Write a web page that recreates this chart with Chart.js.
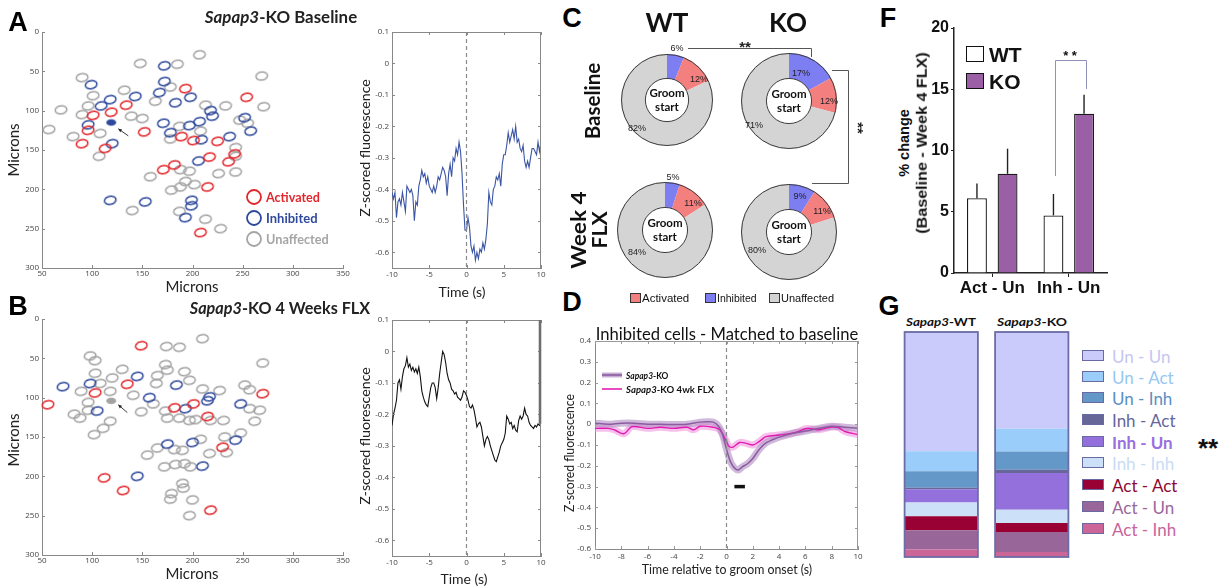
<!DOCTYPE html>
<html><head><meta charset="utf-8">
<script src="https://cdn.jsdelivr.net/npm/chart.js@4.4.1/dist/chart.umd.min.js"></script>
<style>
html,body{margin:0;padding:0;background:#fff;}
#root{position:relative;width:1229px;height:586px;overflow:hidden;font-family:Lato,"Open Sans",sans-serif;}
canvas{position:absolute;}
.t{position:absolute;white-space:nowrap;line-height:1;}
svg{position:absolute;left:0;top:0;}
</style></head><body><div id="root"></div>
<script>
// ================= DATA =================
const scatterXTicks = [50,100,150,200,250,300,350];
const scatterYTicks = [0,50,100,150,200,250,300];

const baselineActivated = [[193,72],[254,83],[134,93],[119,102],[101,106],[96,125],[152,127],[189,133],[201,138],[225,139],[90,142],[113,148],[236,165],[242,155],[217,159],[182,169],[171,175],[215,197],[208,255]];
const baselineInhibited = [[172,43],[99,67],[172,63],[167,77],[143,82],[198,83],[118,86],[109,94],[183,90],[218,100],[220,107],[252,109],[96,118],[171,116],[207,114],[197,119],[258,126],[178,128],[209,137],[237,133],[120,142],[206,164],[118,214],[153,216],[199,214],[199,221],[193,236]];
const baselineTracked = [[119,115]];
const baselineUnaffected = [[207,29],[148,40],[185,41],[269,56],[90,58],[132,74],[178,70],[101,81],[163,88],[69,99],[96,94],[213,93],[233,94],[271,95],[90,105],[139,107],[150,110],[57,124],[108,129],[81,133],[187,120],[208,126],[255,116],[247,112],[178,136],[107,158],[243,147],[243,158],[188,175],[197,177],[158,184],[226,180],[243,178],[193,190],[188,197],[202,194],[179,201],[140,227],[187,228],[213,238],[228,250]];

const flxActivated = [[149,34],[135,83],[103,94],[56,109],[182,113],[201,108],[215,124],[270,95],[230,163],[112,202],[131,218],[218,243]];
const flxInhibited = [[71,86],[98,82],[145,73],[105,117],[157,100],[184,84],[193,114],[217,99],[215,104],[248,108],[175,159],[200,157],[243,154],[210,187],[145,200]];
const flxTracked = [[119,104]];
const flxUnaffected = [[210,25],[98,47],[103,53],[174,35],[187,36],[270,56],[130,64],[103,69],[173,58],[175,65],[192,67],[165,72],[197,78],[164,82],[120,75],[108,82],[89,92],[118,92],[141,97],[210,89],[227,91],[252,84],[257,90],[96,106],[96,116],[82,121],[88,126],[149,118],[161,108],[173,117],[175,126],[187,126],[197,129],[203,128],[218,129],[231,129],[257,114],[267,116],[262,130],[118,130],[111,139],[102,147],[208,153],[232,150],[248,145],[234,170],[217,171],[165,164],[155,173],[182,166],[190,167],[172,188],[183,185],[192,184],[198,188],[190,209],[191,215],[179,222],[178,229],[200,230],[197,250]];

const traceTime = [-10,-9.8,-9.6,-9.4,-9.2,-9,-8.8,-8.6,-8.4,-8.2,-8,-7.8,-7.6,-7.4,-7.2,-7,-6.8,-6.6,-6.4,-6.2,-6,-5.8,-5.6,-5.4,-5.2,-5,-4.8,-4.6,-4.4,-4.2,-4,-3.8,-3.6,-3.4,-3.2,-3,-2.8,-2.6,-2.4,-2.2,-2,-1.8,-1.6,-1.4,-1.2,-1,-0.8,-0.6,-0.4,-0.2,0,0.2,0.4,0.6,0.8,1,1.2,1.4,1.6,1.8,2,2.2,2.4,2.6,2.8,3,3.2,3.4,3.6,3.8,4,4.2,4.4,4.6,4.8,5,5.2,5.4,5.6,5.8,6,6.2,6.4,6.6,6.8,7,7.2,7.4,7.6,7.8,8,8.2,8.4,8.6,8.8,9,9.2,9.4,9.6,9.8,10];
const traceBaseline = [
 -0.41,-0.43,-0.41,-0.49,-0.44,-0.43,-0.45,-0.41,-0.44,-0.47,
 -0.39,-0.40,-0.41,-0.40,-0.42,-0.50,-0.44,-0.45,-0.39,-0.37,
 -0.34,-0.36,-0.35,-0.38,-0.36,-0.39,-0.40,-0.41,-0.39,-0.41,
 -0.39,-0.36,-0.37,-0.35,-0.33,-0.34,-0.36,-0.42,-0.35,-0.32,
 -0.36,-0.30,-0.31,-0.27,-0.29,-0.25,-0.28,-0.35,-0.45,-0.53,
 -0.53,-0.49,-0.52,-0.58,-0.60,-0.58,-0.625,-0.60,-0.62,-0.59,
 -0.60,-0.57,-0.59,-0.56,-0.51,-0.41,-0.44,-0.45,-0.40,-0.39,
 -0.36,-0.37,-0.35,-0.39,-0.32,-0.29,-0.29,-0.26,-0.22,-0.25,
 -0.23,-0.21,-0.24,-0.20,-0.25,-0.24,-0.27,-0.28,-0.26,-0.31,
 -0.33,-0.31,-0.33,-0.30,-0.27,-0.27,-0.28,-0.29,-0.25,-0.28,
 -0.25];
const traceFLX = [
 -0.235,-0.20,-0.18,-0.155,-0.10,-0.09,-0.12,-0.08,-0.055,-0.045,
 -0.02,-0.05,-0.04,-0.06,-0.05,-0.065,-0.055,-0.07,-0.05,-0.08,
 -0.125,-0.145,-0.16,-0.17,-0.175,-0.145,-0.115,-0.10,-0.10,-0.115,
 -0.15,-0.115,-0.07,-0.035,0.0,-0.01,-0.035,-0.07,-0.09,-0.10,
 -0.12,-0.125,-0.135,-0.13,-0.145,-0.15,-0.155,-0.145,-0.125,-0.13,
 -0.14,-0.155,-0.175,-0.18,-0.17,-0.185,-0.21,-0.24,-0.23,-0.225,
 -0.24,-0.27,-0.30,-0.28,-0.27,-0.28,-0.30,-0.315,-0.33,-0.345,
 -0.35,-0.335,-0.32,-0.30,-0.29,-0.28,-0.26,-0.205,-0.215,-0.23,
 -0.225,-0.245,-0.235,-0.25,-0.255,-0.22,-0.205,-0.215,-0.205,-0.18,
 -0.20,-0.205,-0.225,-0.235,-0.24,-0.245,-0.235,-0.24,-0.23,-0.235,
 -0.23];
const traceFLXEndBar = [0.1,-0.23];
const traceXTicks = [-10,-5,0,5,10];
const traceYTicks = [0.1,0,-0.1,-0.2,-0.3,-0.4,-0.5,-0.6];

const donutCategories = ['Inhibited','Activated','Unaffected'];
const donutWTBaseline = [6,12,82];
const donutKOBaseline = [17,12,71];
const donutWTWeek4 = [5,11,84];
const donutKOWeek4 = [9,11,80];

const dTimeKO = [-10,-9,-8,-7,-6,-5,-4,-3,-2,-1.5,-1,-0.6,-0.3,0,0.3,0.6,0.9,1.2,1.6,2,2.5,3,3.5,4,5,6,7,8,9,10];
const dMeanKO = [0.005,0.0,0.005,0.005,0.0,0.0,-0.002,0.0,0.01,0.012,0.01,-0.01,-0.05,-0.12,-0.18,-0.21,-0.22,-0.205,-0.19,-0.165,-0.12,-0.09,-0.075,-0.062,-0.045,-0.033,-0.02,-0.01,-0.015,-0.02];
const dTimeFLX = [-10,-9,-8.5,-7.8,-7.2,-6,-5,-4,-3,-2.5,-2,-1,-0.5,0,0.2,0.5,1,1.5,2,2.5,3,4,5,5.5,6,6.5,7,8,8.5,9,10];
const dMeanFLX = [-0.02,-0.02,-0.028,-0.046,-0.012,-0.02,-0.015,-0.02,-0.015,-0.027,-0.01,-0.015,-0.027,-0.083,-0.107,-0.11,-0.088,-0.092,-0.1,-0.083,-0.06,-0.052,-0.043,-0.035,-0.022,-0.022,-0.027,-0.014,-0.016,-0.035,-0.05];
const dSigTimes = [0.6,1.4];
const dSigLevel = -0.3;
const dXTicks = [-10,-8,-6,-4,-2,0,2,4,6,8,10];
const dYTicks = [0.4,0.3,0.2,0.1,0,-0.1,-0.2,-0.3,-0.4,-0.5,-0.6];

const fCategories = ['Act - Un','Inh - Un'];
const fWT = [6.1,4.7];
const fKO = [8.1,13.0];
const fWTsem = [1.2,1.75];
const fKOsem = [2.05,1.55];
const fYTicks = [0,5,10,15,20];

const gGroups = ['Sapap3-WT','Sapap3-KO'];
const gCategories = ['Un - Un','Un - Act','Un - Inh','Inh - Act','Inh - Un','Inh - Inh','Act - Act','Act - Un','Act - Inh'];
const gWT = [53.0,8.9,7.3,0.7,5.9,6.1,6.2,8.6,3.3];
const gKO = [43.0,10.1,8.1,1.5,16.3,5.9,4.0,8.9,2.2];

// ================= STYLE / HELPERS =================
Chart.defaults.animation = false;
Chart.defaults.events = [];
Chart.defaults.plugins.legend.display = false;
Chart.defaults.plugins.tooltip.enabled = false;
Chart.defaults.font.family = 'Lato, "Open Sans", sans-serif';

const root = document.getElementById('root');
function mkCanvas(x,y,w,h){
  const c=document.createElement('canvas');
  c.width=w;c.height=h;
  c.style.left=x+'px';c.style.top=y+'px';c.style.width=w+'px';c.style.height=h+'px';
  root.appendChild(c);return c;
}
function T(html,x,y,css,anchor,rot,fitW){
  anchor=anchor||'c';rot=rot||0;
  const d=document.createElement('div');d.className='t';d.innerHTML=html;
  d.style.cssText+=css;d.style.left=x+'px';d.style.top=y+'px';
  root.appendChild(d);
  let sx=1; if(fitW){sx=fitW/d.offsetWidth;}
  const origin=anchor==='l'?'0% 50%':anchor==='r'?'100% 50%':'50% 50%';
  const tr=anchor==='l'?'translate(0,-50%)':anchor==='r'?'translate(-100%,-50%)':'translate(-50%,-50%)';
  d.style.transformOrigin=origin;
  d.style.transform=tr+' rotate('+rot+'deg) scaleX('+sx+')';
  return d;
}
const fmt = v => String(Math.round(v*100)/100);
const tickFont = {family:'"Open Sans", sans-serif', size:8};
function lin(o){
  return {
    type:'linear', position:o.pos, min:o.min, max:o.max, reverse:!!o.reverse,
    afterBuildTicks: s=>{ s.ticks = o.ticks.map(v=>({value:v})); },
    afterFit: s=>{ if(o.pos==='bottom'||o.pos==='top') s.height=o.size; else s.width=o.size;
      s.paddingLeft=0;s.paddingRight=0;s.paddingTop=0;s.paddingBottom=0; },
    ticks:{font:o.font||tickFont, color:o.color||'#444', padding:o.pad===undefined?3:o.pad, maxRotation:0, autoSkip:false, callback:o.fmt||fmt},
    grid:{display:true, drawOnChartArea:false, drawTicks:!!o.tl, tickLength:o.tl||0, color:o.gc||'#888', lineWidth:o.glw||1},
    border:{display:true, color:o.bc||'#888', width:o.bw||1}
  };
}
// MATLAB style: inward ticks, optional box, dashed zero line
const matlabPlugin = {
  id:'matlab',
  afterDatasetsDraw(chart){
    const o = chart.config._config.matlab; if(!o) return;
    const a=chart.chartArea, c=chart.ctx, xs=chart.scales.x, ys=chart.scales.y;
    c.save();
    if(o.vline!==undefined){
      c.strokeStyle='#8a8a8a'; c.lineWidth=1.2; c.setLineDash([4,3]);
      const px=xs.getPixelForValue(o.vline);
      c.beginPath(); c.moveTo(px,a.top); c.lineTo(px,a.bottom); c.stroke(); c.setLineDash([]);
    }
    c.strokeStyle=o.color||'#888'; c.lineWidth=1;
    if(o.box){
      c.beginPath(); c.moveTo(a.left,a.top+0.5); c.lineTo(a.right-0.5,a.top+0.5); c.lineTo(a.right-0.5,a.bottom); c.stroke();
    }
    c.beginPath();
    xs.ticks.forEach(t=>{const px=Math.round(xs.getPixelForValue(t.value))+0.5; c.moveTo(px,a.bottom); c.lineTo(px,a.bottom-3); if(o.box){c.moveTo(px,a.top); c.lineTo(px,a.top+3);} });
    ys.ticks.forEach(t=>{const py=Math.round(ys.getPixelForValue(t.value))+0.5; c.moveTo(a.left,py); c.lineTo(a.left+3,py); if(o.box){c.moveTo(a.right,py); c.lineTo(a.right-3,py);} });
    c.stroke();
    if(o.endBar){
      c.strokeStyle='#6e6e6e'; c.lineWidth=2.6;
      const px=xs.getPixelForValue(10)-1;
      c.beginPath(); c.moveTo(px,ys.getPixelForValue(o.endBar[0])); c.lineTo(px,ys.getPixelForValue(o.endBar[1])); c.stroke();
    }
    if(o.arrow){
      const [fx,fy]=[xs.getPixelForValue(o.arrow[0][0]),ys.getPixelForValue(o.arrow[0][1])];
      const [tx,ty]=[xs.getPixelForValue(o.arrow[1][0]),ys.getPixelForValue(o.arrow[1][1])];
      c.strokeStyle='#222'; c.fillStyle='#222'; c.lineWidth=0.9;
      c.beginPath(); c.moveTo(fx,fy); c.lineTo(tx,ty); c.stroke();
      const ang=Math.atan2(ty-fy,tx-fx);
      c.beginPath(); c.moveTo(tx,ty);
      c.lineTo(tx-4*Math.cos(ang-0.45),ty-4*Math.sin(ang-0.45));
      c.lineTo(tx-4*Math.cos(ang+0.45),ty-4*Math.sin(ang+0.45)); c.closePath(); c.fill();
    }
    c.restore();
  }
};
Chart.register(matlabPlugin);

function ellipseImg(color, filled, rx, ry, lw){
  rx=rx||5.8; ry=ry||4.1; lw=lw||1.5;
  const c=document.createElement('canvas');
  const w=Math.ceil(2*rx+lw+2), h=Math.ceil(2*ry+lw+2);
  c.width=w;c.height=h; const g=c.getContext('2d');
  g.beginPath(); g.ellipse(w/2,h/2,rx,ry,0,0,Math.PI*2);
  if(filled){g.fillStyle=color;g.fill();} else {g.strokeStyle=color;g.lineWidth=lw;g.stroke();}
  return c;
}
const RED='#e3262b', BLUE='#2f4a9c', GRAY='#a3a3a3';

// ================= PANEL A/B: scatter maps =================
function scatterMap(top, act, inh, unaff, tracked, trackedColor, arrow){
  const cx=20, cw=330, ch=258;
  const plotTop=top;
  const cy=plotTop-7;
  const c=mkCanvas(cx,cy,cw,ch);
  const mk=(arr,img,rot)=>({data:arr.map(p=>({x:p[0],y:p[1]})), pointStyle:img, pointRadius:5, pointRotation:rot, showLine:false});
  new Chart(c,{type:'scatter',
    data:{datasets:[
      mk(tracked, ellipseImg(trackedColor,true,5,3.2), 0),
      mk(act, ellipseImg(RED,false), -12),
      mk(inh, ellipseImg(BLUE,false), -12),
      mk(unaff, ellipseImg(GRAY,false), -8)
    ]},
    options:{responsive:false, clip:false,
      layout:{padding:{top:7,right:7,left:0,bottom:0}},
      scales:{
        x:lin({pos:'bottom',min:50,max:350,ticks:scatterXTicks,size:ch-7-236,pad:1}),
        y:lin({pos:'left',min:0,max:300,reverse:true,ticks:scatterYTicks,size:42-cx,pad:3})
      }},
    matlab:{arrow:arrow}
  });
}
scatterMap(32, baselineActivated, baselineInhibited, baselineUnaffected, baselineTracked, BLUE, [[136,132],[126,123]]);
scatterMap(319, flxActivated, flxInhibited, flxUnaffected, flxTracked, GRAY, [[135,119],[126,109]]);

// ================= PANEL A/B: traces =================
function trace(top, vals, color, endBar){
  const cx=362, cw=186, plotLeft=392, plotRight=541;
  const cy=top-7, ch=236+7+14;
  const c=mkCanvas(cx,cy,cw,ch);
  new Chart(c,{type:'line',
    data:{datasets:[{data:traceTime.map((t,i)=>({x:t,y:vals[i]})), borderColor:color, borderWidth:1.1, pointRadius:0, tension:0}]},
    options:{responsive:false,
      layout:{padding:{top:7,right:cx+cw-plotRight,left:0,bottom:0}},
      scales:{
        x:lin({pos:'bottom',min:-10,max:10,ticks:traceXTicks,size:14,pad:2}),
        y:lin({pos:'left',min:-0.65,max:0.1,ticks:traceYTicks,size:plotLeft-cx,pad:3})
      }},
    matlab:{box:true, vline:0, endBar:endBar}
  });
}
trace(32, traceBaseline, '#3a55a5');
trace(320, traceFLX, '#111', traceFLXEndBar);

// ================= PANEL C: donuts =================
const cColors=['#7d7ef2','#f47f7f','#d4d4d4'];
const ringPlugin={id:'ring', afterDatasetsDraw(chart){
  const el=chart.getDatasetMeta(0).data[0]; if(!el) return;
  const c=chart.ctx; c.save(); c.strokeStyle='#3d3d3d'; c.lineWidth=1;
  c.beginPath(); c.arc(el.x,el.y,el.outerRadius-0.5,0,Math.PI*2); c.stroke();
  c.beginPath(); c.arc(el.x,el.y,el.innerRadius,0,Math.PI*2); c.stroke(); c.restore();
}};
function donut(cxm, cym, size, vals){
  const c=mkCanvas(cxm-size/2, cym-size/2, size, size);
  new Chart(c,{type:'doughnut',
    data:{labels:donutCategories, datasets:[{data:vals, backgroundColor:cColors, borderWidth:0}]},
    options:{responsive:false, cutout:'47%', layout:{padding:0}},
    plugins:[ringPlugin]});
  T('Groom<br>start', cxm, cym, 'font:700 11.5px Lato;text-align:center;line-height:1.2;color:#111;');
}
donut(667,100,92,donutWTBaseline);
donut(789,101,96,donutKOBaseline);
donut(665,230,96,donutWTWeek4);
donut(789,232,96,donutKOWeek4);

// ================= PANEL D =================
(function(){
  const cx=560, cy=338, cw=306, ch=234, pl=595, pt=341, pr=858, pb=549;
  const c=mkCanvas(cx,cy,cw,ch);
  const pts=(ts,vs)=>ts.map((t,i)=>({x:t,y:vs[i]}));
  new Chart(c,{type:'line',
    data:{datasets:[
      {data:pts(dTimeKO,dMeanKO), borderColor:'rgb(140,92,160)', borderWidth:1.5, pointRadius:0, tension:0.35},
      {data:pts(dTimeFLX,dMeanFLX), borderColor:'rgb(226,28,176)', borderWidth:1.4, pointRadius:0, tension:0.35},
      {data:dSigTimes.map(t=>({x:t,y:dSigLevel})), borderColor:'#111', borderWidth:3.5, pointRadius:0},
      {data:pts(dTimeKO,dMeanKO), borderColor:'rgba(175,140,195,0.6)', borderWidth:7, pointRadius:0, tension:0.35, borderCapStyle:'round', borderJoinStyle:'round'},
      {data:pts(dTimeFLX,dMeanFLX), borderColor:'rgba(240,140,220,0.55)', borderWidth:7, pointRadius:0, tension:0.35, borderCapStyle:'round', borderJoinStyle:'round'}
    ]},
    options:{responsive:false,
      layout:{padding:{top:pt-cy,right:cx+cw-pr,left:0,bottom:0}},
      scales:{
        x:lin({pos:'bottom',min:-10,max:10,ticks:dXTicks,size:cy+ch-pb,pad:3}),
        y:lin({pos:'left',min:-0.6,max:0.4,ticks:dYTicks,size:pl-cx,pad:4})
      }},
    matlab:{box:true, vline:0, color:'#999'}
  });
})();

// ================= PANEL F =================
(function(){
  const cx=922, cy=20, cw=193, ch=280, pl=954, pt=28, pr=1107, pb=273;
  const c=mkCanvas(cx,cy,cw,ch);
  const semPlugin={id:'sem', afterDatasetsDraw(chart){
    const sems=[fWTsem,fKOsem], vals=[fWT,fKO], ys=chart.scales.y, g=chart.ctx;
    g.save(); g.strokeStyle='#222'; g.lineWidth=1.4;
    [0,1].forEach(d=>{ chart.getDatasetMeta(d).data.forEach((el,j)=>{
      g.beginPath(); g.moveTo(el.x, ys.getPixelForValue(vals[d][j])); g.lineTo(el.x, ys.getPixelForValue(vals[d][j]+sems[d][j])); g.stroke();
    });});
    g.restore();
  }};
  const boldA={family:'"Liberation Sans", Arial, sans-serif', size:16, weight:'bold'};
  new Chart(c,{type:'bar',
    data:{labels:fCategories, datasets:[
      {label:'WT', data:fWT, backgroundColor:'#fff', borderColor:'#1a1a1a', borderWidth:1.3, barPercentage:0.65, categoryPercentage:0.8},
      {label:'KO', data:fKO, backgroundColor:'#9b5fa6', borderColor:'#1a1a1a', borderWidth:1.3, barPercentage:0.65, categoryPercentage:0.8}
    ]},
    options:{responsive:false,
      layout:{padding:{top:pt-cy,right:cx+cw-pr,left:0,bottom:0}},
      scales:{
        x:{type:'category', afterFit:s=>{s.height=cy+ch-pb; s.paddingLeft=0;s.paddingRight=0;},
           ticks:{font:{family:'"Liberation Sans", Arial, sans-serif',size:17,weight:'bold'}, color:'#111', padding:1, maxRotation:0},
           grid:{drawOnChartArea:false, offset:false, tickLength:4, color:'#222'}, border:{color:'#222',width:1.5}},
        y:lin({pos:'left',min:0,max:20,ticks:fYTicks,size:pl-cx,pad:2,tl:3,font:boldA,color:'#111',gc:'#222',bc:'#222',bw:1.5,fmt:v=>String(v)})
      }},
    plugins:[semPlugin]
  });
})();

// ================= PANEL G =================
const gColors=['#cbcbfb','#9bcdfb','#6498c8','#666699','#9370db','#cce0f8','#990033','#996699','#cc6699'];
const gText=['#c6c6f2','#96c8f2','#5a8fc4','#66669a','#9b6fe0','#c8dcf6','#8e0a30','#9a679a','#c8649c'];
(function(){
  const c=mkCanvas(896,330,181,229);
  const ds=[];
  for(let i=gCategories.length-1;i>=0;i--){
    ds.push({label:gCategories[i], data:[gWT[i],gKO[i]], backgroundColor:gColors[i], borderWidth:0, barPercentage:0.81, categoryPercentage:1});
  }
  const outline={id:'outline', afterDatasetsDraw(chart){
    const g=chart.ctx; g.save(); g.strokeStyle='#6c6ca6'; g.lineWidth=1.8;
    [0,1].forEach(j=>{
      let top=1e9,bot=-1e9,left=0,w=0;
      chart.data.datasets.forEach((d,i)=>{const el=chart.getDatasetMeta(i).data[j]; top=Math.min(top,el.y,el.base); bot=Math.max(bot,el.y,el.base); left=el.x-el.width/2; w=el.width;});
      g.strokeRect(left,top,w,bot-top);
    });
    g.restore();
  }};
  new Chart(c,{type:'bar', data:{labels:gGroups, datasets:ds},
    options:{responsive:false, layout:{padding:{top:2,bottom:2,left:0,right:0}},
      scales:{x:{display:false,stacked:true}, y:{display:false,stacked:true,min:0,max:100}}},
    plugins:[outline]});
})();

// ================= TEXT / DECORATION =================
const L='font-family:"Liberation Sans",Arial,sans-serif;';
[['A',18,22],['B',18,306],['C',572,18],['D',572,302],['F',888,18],['G',889,306]].forEach(p=>T(p[0],p[1],p[2],L+'font-weight:700;font-size:27px;color:#000;'));
T('<i>Sapap3</i>-KO Baseline',281,16,'font:700 17px Lato;color:#222;','c',0,152);
T('<i>Sapap3</i>-KO 4 Weeks FLX',280,307,'font:700 17px Lato;color:#222;','c',0,180);
T('Microns',192,286,'font:400 15px Lato;color:#222;');
T('Microns',192,573,'font:400 15px Lato;color:#222;');
T('Microns',13,150,'font:400 15px Lato;color:#222;','c',-90);
T('Microns',13,440,'font:400 15px Lato;color:#222;','c',-90);
T('Z-scored fluorescence',364,148,'font:400 14px Lato;color:#222;','c',-90,138);
T('Z-scored fluorescence',364,436,'font:400 14px Lato;color:#222;','c',-90,138);
T('Time (s)',462,291,'font:400 14px Lato;color:#222;');
T('Time (s)',464,578,'font:400 14px Lato;color:#222;');
T('Activated',266,197,'font:700 13.5px Lato;color:'+RED+';','l',0,54);
T('Inhibited',266,218,'font:700 13.5px Lato;color:'+BLUE+';','l',0,52);
T('Unaffected',266,239,'font:700 13.5px Lato;color:#a5a5a5;','l',0,63);

T('WT',667,22,'font:700 26px Lato;color:#111;');
T('KO',788,22,'font:700 26px Lato;color:#111;');
T('Baseline',592,101,'font:700 20px Lato;color:#111;','c',-90,77);
T('Week 4',578,230,'font:700 20px Lato;color:#111;','c',-90,77);
T('FLX',599,230,'font:700 20px Lato;color:#111;','c',-90,37);
const pc=L+'font-size:9px;color:#222;';
T('6%',677,48,pc); T('12%',699,79,pc); T('82%',637,128,pc);
T('17%',801,73,pc); T('12%',829,101,pc); T('71%',754,125,pc);
T('5%',673,177,pc); T('11%',693,203,pc); T('84%',637,252,pc);
T('9%',800,196,pc); T('11%',822,211,pc); T('80%',757,250,pc);
T('**',745,46,L+'font-weight:700;font-size:15px;color:#222;');
T('**',858,128,L+'font-weight:700;font-size:15px;color:#222;','c',90);
[['Activated',630,cColors[1],47],['Inhibited',705,cColors[0],40],['Unaffected',769,cColors[2],53]].forEach(l=>{
  const b=document.createElement('div'); b.style.cssText='position:absolute;left:'+l[1]+'px;top:293px;width:9px;height:8px;border:1px solid #333;background:'+l[2]+';';
  root.appendChild(b);
  T(l[0],l[1]+12,298,L+'font-size:11px;color:#111;','l',0,l[3]);
});

T('Inhibited cells - Matched to baseline',727,333,'font:400 18px Lato;color:#111;','c',0,263);
T('Z-scored fluorescence',569,453,'font:400 13px Lato;color:#222;','c',-90,118);
T('Time relative to groom onset (s)',727,568,'font:400 14px Lato;color:#222;','c',0,170);
T('<i>Sapap3</i>-KO',626,375,'font:700 10px Lato;color:#111;','l',0,42);
T('<i>Sapap3</i>-KO 4wk FLX',626,389,'font:700 10px Lato;color:#111;','l',0,88);

T('% change',904,143,L+'font-weight:700;font-size:14.5px;color:#111;','c',-90);
T('(Baseline - Week 4 FLX)',922,143,L+'font-weight:700;font-size:14.5px;color:#111;','c',-90,181);
T('WT',989,54,L+'font-weight:700;font-size:21px;color:#111;','l');
T('KO',989,81,L+'font-weight:700;font-size:21px;color:#111;','l');
T('* *',1070,55,L+'font-weight:700;font-size:13px;color:#111;');
[[46,'#fff'],[73,'#9b5fa6']].forEach(b=>{const d=document.createElement('div');d.style.cssText='position:absolute;left:966px;top:'+b[0]+'px;width:16px;height:14px;border:1.5px solid #111;background:'+b[1]+';';root.appendChild(d);});

T('<i>Sapap3</i>-WT',941,321,'font:700 11.5px Lato;color:#111;','c',0,70);
T('<i>Sapap3</i>-KO',1032,321,'font:700 11.5px Lato;color:#111;','c',0,70);
const gRows=[356,377,398,420,442,463,485,507,529];
gCategories.forEach((name,i)=>{
  const b=document.createElement('div');
  b.style.cssText='position:absolute;left:1082px;top:'+(gRows[i]-6)+'px;width:20px;height:9px;border:1.6px solid #6a6aa2;background:'+gColors[i]+';';
  root.appendChild(b);
  T(name,1112,gRows[i],'font:'+(name==='Inh - Un'?700:400)+' 17px Lato;color:'+gText[i]+';','l');
});
T('**',1208,448,L+'font-weight:700;font-size:26px;color:#111;');

root.insertAdjacentHTML('beforeend',
 '<svg width="1229" height="586" viewBox="0 0 1229 586">'+
 '<polyline points="688,48.5 811.5,48.5 811.5,57" fill="none" stroke="#555" stroke-width="1"/>'+
 '<polyline points="832,70.5 848.5,70.5 848.5,183.5 812,183.5" fill="none" stroke="#555" stroke-width="1"/>'+
 '<polyline points="1055.5,176 1055.5,60.5 1086.5,60.5 1086.5,89" fill="none" stroke="#9090b8" stroke-width="1"/>'+
 '<line x1="602" y1="375" x2="622" y2="375" stroke="rgba(175,140,195,0.7)" stroke-width="5"/>'+
 '<line x1="602" y1="375" x2="622" y2="375" stroke="rgb(140,92,160)" stroke-width="1.6"/>'+
 '<line x1="602" y1="389" x2="622" y2="389" stroke="rgb(226,28,176)" stroke-width="1.6"/>'+
 '<circle cx="254" cy="197" r="7" fill="none" stroke="'+RED+'" stroke-width="1.8"/>'+
 '<circle cx="254" cy="218" r="7" fill="none" stroke="'+BLUE+'" stroke-width="1.8"/>'+
 '<circle cx="254" cy="239" r="7" fill="none" stroke="#a5a5a5" stroke-width="1.8"/>'+
 '</svg>');
</script>
</body></html>
